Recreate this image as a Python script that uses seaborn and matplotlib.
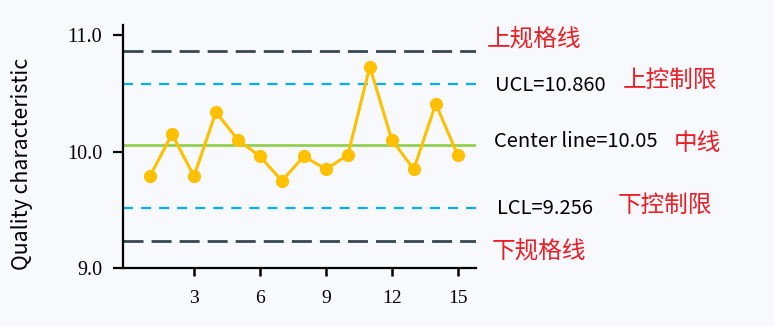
import matplotlib
matplotlib.use("Agg")
import matplotlib.pyplot as plt
import seaborn as sns
import pandas as pd
from matplotlib.ticker import FormatStrFormatter

# ---- data ----
samples = list(range(1, 16))
values = [9.79, 10.15, 9.79, 10.34, 10.10, 9.96, 9.75, 9.96, 9.85, 9.97,
          10.73, 10.10, 9.85, 10.41, 9.97]
usl = 10.865
ucl = 10.583
center = 10.054
lcl = 9.52
lsl = 9.237
x_ticks = [3, 6, 9, 12, 15]
y_ticks = [9.0, 10.0, 11.0]
ylabel = "Quality characteristic"

bg = "#f8f9fc"
sns.set_style("ticks")
plt.rcParams["lines.scale_dashes"] = False
plt.rcParams["font.family"] = ["Noto Sans CJK SC", "DejaVu Sans"]

fig = plt.figure(figsize=(7.74, 3.26), dpi=100, facecolor=bg)
W, H = 774, 326
ax = fig.add_axes([123 / W, 1 - 268.3 / H, (476 - 123) / W, (268.3 - 25) / H])
ax.set_facecolor(bg)

df = pd.DataFrame({"sample": samples, "value": values})

# reference lines
ax.axhline(usl, color="#37474f", lw=2.0, dashes=(14.4, 5.8))
ax.axhline(ucl, color="#00b0f0", lw=1.6, dashes=(7.2, 5.8))
ax.axhline(center, color="#92d050", lw=2.0)
ax.axhline(lcl, color="#00b0f0", lw=1.6, dashes=(7.2, 5.8))
ax.axhline(lsl, color="#37474f", lw=2.0, dashes=(14.4, 5.8))

sns.lineplot(data=df, x="sample", y="value", ax=ax, color="#ffc000",
             lw=2.2, marker="o", markersize=9.5, markeredgewidth=0,
             zorder=5)

ax.set_xlim(-0.23, 15.83)
ax.set_ylim(9.0, 11.086)
ax.set_xticks(x_ticks)
ax.set_yticks(y_ticks)
ax.yaxis.set_major_formatter(FormatStrFormatter("%.1f"))
ax.set_xlabel("")
ax.set_ylabel(ylabel, fontsize=15.3, color="black", va="center")
ax.yaxis.set_label_coords((22 - 123) / 353, (268.3 - 164) / 243.3)

for s in ["top", "right"]:
    ax.spines[s].set_visible(False)
for s in ["left", "bottom"]:
    ax.spines[s].set_color("black")
    ax.spines[s].set_linewidth(1.6)

ax.tick_params(axis="y", length=7, width=1.6, pad=8, color="black",
               labelsize=14.5, labelcolor="black",
               labelfontfamily="Liberation Serif")
ax.tick_params(axis="x", length=5.5, width=1.8, pad=10, color="black",
               labelsize=14, labelcolor="black",
               labelfontfamily="Liberation Serif")

# annotations (pixel positions)
red = "#ee1c25"
notes = [
    ("上规格线", 487, 39, red, 17),
    ("UCL=10.860", 495, 85, "black", 14.5),
    ("上控制限", 623, 80, red, 17),
    ("Center line=10.05", 494, 142, "black", 14.5),
    ("中线", 674, 144, red, 17),
    ("LCL=9.256", 497, 208, "black", 14.5),
    ("下控制限", 618, 205.5, red, 17),
    ("下规格线", 492, 251, red, 17),
]
for txt, px, py, c, fs in notes:
    fig.text(px / W, 1 - py / H, txt, ha="left", va="center",
             fontsize=fs, color=c)

fig.savefig("out.png", dpi=100, facecolor=bg)
